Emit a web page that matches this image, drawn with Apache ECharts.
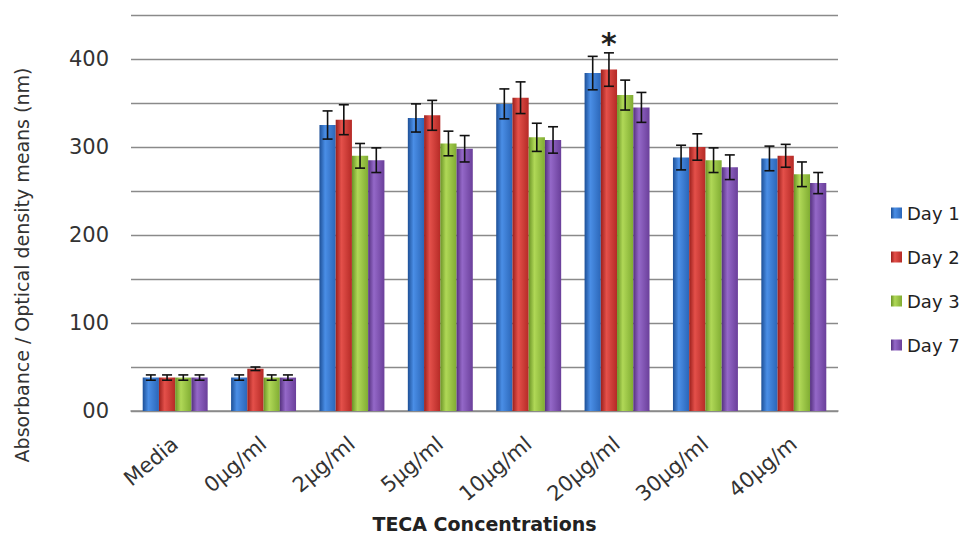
<!DOCTYPE html>
<html>
<head>
<meta charset="utf-8">
<script src="https://cdn.jsdelivr.net/npm/echarts@6/dist/echarts.min.js"></script>
<style>html,body{margin:0;padding:0;background:#fff;}#c{width:973px;height:536px;}</style>
</head>
<body>
<div id="c"></div>
<script>
const categories = ['Media', '0µg/ml', '2µg/ml', '5µg/ml', '10µg/ml', '20µg/ml', '30µg/ml', '40µg/m'];
const seriesNames = ['Day 1', 'Day 2', 'Day 3', 'Day 7'];
const day1 = [38, 38, 325, 333, 349, 384, 288, 287];
const day2 = [38, 48, 331, 336, 356, 388, 300, 290];
const day3 = [38, 38, 290, 304, 311, 359, 285, 269];
const day7 = [38, 38, 285, 298, 308, 345, 277, 259];
const err1 = [3, 3, 16, 16, 17, 19, 14, 14];
const err2 = [3, 2, 17, 17, 18, 19, 15, 13];
const err3 = [3, 3, 14, 14, 16, 17, 14, 14];
const err7 = [3, 3, 14, 15, 15, 17, 14, 12];
const sigDay2 = ['', '', '', '', '', '*', '', ''];
const yTicks = [0, 100, 200, 300, 400];
const yTitle = 'Absorbance / Optical density means (nm)';
const xTitle = 'TECA Concentrations';

const values = [day1, day2, day3, day7];
const errors = [err1, err2, err3, err7];
const sigs = [null, sigDay2, null, null];
const palettes = [
  ['#1d4f96', '#4a8ee6', '#2b66b8'],
  ['#9a1f1c', '#e4504a', '#b52a26'],
  ['#6a9326', '#b0d857', '#80ac32'],
  ['#54307e', '#9468c8', '#6a3f9a']
];
const CAT_GAP = 0.265;

function grad(p) {
  return new echarts.graphic.LinearGradient(0, 0, 1, 0, [
    {offset: 0, color: p[0]}, {offset: 0.35, color: p[1]}, {offset: 1, color: p[2]}
  ]);
}

const series = [];
values.forEach((vals, si) => {
  series.push({
    name: seriesNames[si], type: 'bar', data: vals,
    barGap: '0%', barCategoryGap: (CAT_GAP * 100) + '%',
    itemStyle: {color: grad(palettes[si])}
  });
});
values.forEach((vals, si) => {
  series.push({
    type: 'custom', z: 10, silent: true,
    data: vals.map((v, i) => [i, v, errors[si][i]]),
    renderItem: function (params, api) {
      const xi = api.value(0), v = api.value(1), e = api.value(2);
      const sig = sigs[si] ? sigs[si][params.dataIndex] : '';
      const c = api.coord([xi, v]);
      const band = api.size([1, 0])[0];
      const groupW = band * (1 - CAT_GAP);
      const bw = groupW / 4;
      const x = c[0] - groupW / 2 + (si + 0.5) * bw;
      const yt = api.coord([xi, v + e])[1];
      const yb = api.coord([xi, v - e])[1];
      const cap = 5;
      const st = {stroke: '#111', lineWidth: 1.6};
      const children = [
        {type: 'line', shape: {x1: x, y1: yt, x2: x, y2: yb}, style: st},
        {type: 'line', shape: {x1: x - cap, y1: yt, x2: x + cap, y2: yt}, style: st},
        {type: 'line', shape: {x1: x - cap, y1: yb, x2: x + cap, y2: yb}, style: st}
      ];
      if (sig) {
        children.push({type: 'text', style: {text: sig, x: x, y: yt + 6, align: 'center', verticalAlign: 'bottom',
          font: 'bold 30px "DejaVu Sans"', fill: '#222'}});
      }
      return {type: 'group', children: children};
    }
  });
});

const chart = echarts.init(document.getElementById('c'), null, {renderer: 'svg'});
chart.setOption({
  animation: false,
  backgroundColor: '#fff',
  textStyle: {fontFamily: 'DejaVu Sans'},
  grid: {left: 131, right: 135, top: 15, bottom: 125, containLabel: false, outerBoundsMode: 'none'},
  graphic: [{
    type: 'text', rotation: Math.PI / 2,
    style: {text: yTitle, font: '19px "DejaVu Sans"', fill: '#333', align: 'center', verticalAlign: 'middle'},
    x: 22, y: 265
  }],
  legend: {
    orient: 'vertical', left: 886, top: 199, itemGap: 26,
    itemWidth: 11, itemHeight: 11, icon: 'rect',
    data: seriesNames,
    textStyle: {fontSize: 18, color: '#222', fontFamily: 'DejaVu Sans'}
  },
  xAxis: {
    type: 'category', data: categories,
    name: xTitle, nameLocation: 'middle', nameGap: 103,
    nameTextStyle: {fontSize: 19, fontWeight: 'bold', color: '#222', fontFamily: 'DejaVu Sans', lineHeight: 20},
    axisLine: {lineStyle: {color: '#8a8a8a', width: 1.5}},
    axisTick: {length: 6, lineStyle: {color: '#8a8a8a', width: 1.5}},
    axisLabel: {rotate: 40, fontSize: 21, color: '#333', margin: 30, fontFamily: 'DejaVu Sans'}
  },
  yAxis: {
    type: 'value', min: 0, max: 450, interval: 50,
    axisLine: {show: false}, axisTick: {show: false},
    splitLine: {lineStyle: {color: '#8a8a8a', width: 1.3}},
    axisLabel: {
      fontSize: 21, color: '#333', margin: 22, fontFamily: 'DejaVu Sans',
      formatter: function (v) { return yTicks.indexOf(v) < 0 ? '' : (v === 0 ? '00' : String(v)); }
    }
  },
  series: series
});
</script>
</body>
</html>
